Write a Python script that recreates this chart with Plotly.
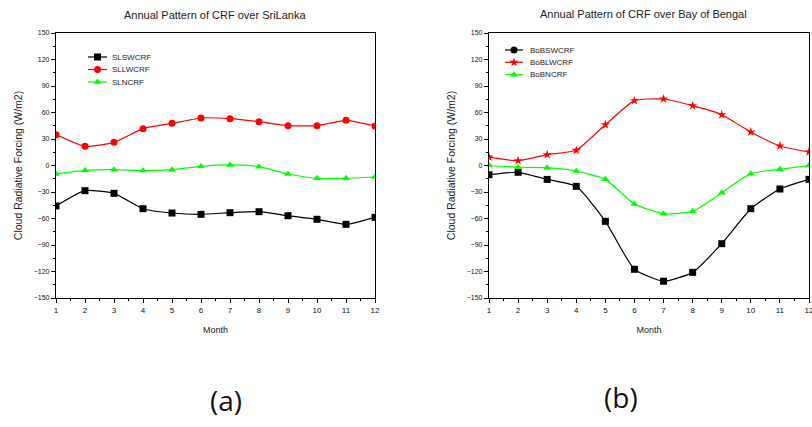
import plotly.graph_objects as go

months = list(range(1, 13))

sl_sw = [-45.8, -28.5, -31.5, -48.9, -53.8, -55.3, -53.4, -52.3, -56.8, -60.9, -66.6, -58.7]
sl_lw = [34.9, 21.7, 26.2, 41.7, 47.7, 53.8, 53.0, 49.6, 45.1, 45.1, 51.1, 44.7]
sl_n = [-9.6, -5.5, -4.7, -5.8, -4.7, -0.9, 0.6, -1.3, -9.6, -14.5, -14.5, -13.0]

bob_sw = [-10.4, -7.7, -15.7, -23.6, -63.2, -117.5, -131.0, -121.0, -88.5, -48.9, -26.6, -15.7]
bob_lw = [9.6, 5.5, 12.3, 17.2, 46.2, 73.4, 75.3, 67.7, 57.5, 37.9, 22.1, 15.3]
bob_n = [0.0, -2.0, -2.5, -6.2, -15.7, -43.6, -54.5, -51.9, -30.8, -9.2, -4.3, 0.0]

y_ticks = list(range(-150, 151, 30))
x_ticks = months

BLACK = "#000000"
RED = "#ff0000"
GREEN = "#00ff00"
FONT = "Liberation Sans"
H = 427
W = 812

fig = go.Figure()

def add(x, y, color, symbol, xa, ya):
    fig.add_trace(go.Scatter(
        x=x, y=y, mode="lines+markers", showlegend=False,
        line=dict(color=color, width=1.2, shape="spline", smoothing=0.5),
        marker=dict(color=color, symbol=symbol, size=7),
        xaxis=xa, yaxis=ya,
    ))

add(months, sl_sw, BLACK, "square", "x", "y")
add(months, sl_lw, RED, "circle", "x", "y")
add(months, sl_n, GREEN, "triangle-up", "x", "y")

add(months, bob_sw, BLACK, "square", "x2", "y2")
add(months, bob_lw, RED, "star", "x2", "y2")
add(months, bob_n, GREEN, "triangle-up", "x2", "y2")

# Compact in-plot legends (drawn on an invisible pixel-scaled overlay axis)
legend_left = dict(names=["SLSWCRF", "SLLWCRF", "SLNCRF"],
                   colors=[BLACK, RED, GREEN], symbols=["square", "circle", "triangle-up"],
                   x0=88, x1=107, xm=97.5, xt=110, ys=[57, 69.5, 82])
legend_right = dict(names=["BoBSWCRF", "BoBLWCRF", "BoBNCRF"],
                    colors=[BLACK, RED, GREEN], symbols=["circle", "star", "triangle-up"],
                    x0=505, x1=523, xm=514, xt=528, ys=[50, 62.3, 74.7])

annotations = []
for lg in (legend_left, legend_right):
    for name, c, s, yy in zip(lg["names"], lg["colors"], lg["symbols"], lg["ys"]):
        fig.add_trace(go.Scatter(x=[lg["x0"], lg["x1"]], y=[yy, yy], mode="lines",
                                 line=dict(color=c, width=1.2), showlegend=False,
                                 hoverinfo="skip", xaxis="x3", yaxis="y3"))
        fig.add_trace(go.Scatter(x=[lg["xm"]], y=[yy], mode="markers",
                                 marker=dict(color=c, symbol=s, size=7), showlegend=False,
                                 hoverinfo="skip", xaxis="x3", yaxis="y3"))
        annotations.append(dict(text=name, x=lg["xt"] / W, y=1 - yy / H, xref="paper",
                                yref="paper", xanchor="left", yanchor="middle",
                                showarrow=False,
                                font=dict(family=FONT, size=8, color="#222")))

ydom = [1 - 298 / H, 1 - 33 / H]

def xaxis(dom, anchor):
    return dict(
        domain=dom, anchor=anchor, range=[1, 12], tickvals=x_ticks,
        automargin=False, ticklabeloverflow="allow",
        ticks="outside", ticklen=4, tickwidth=1.2, tickcolor="#000",
        minor=dict(dtick=0.5, tick0=1, ticks="outside", ticklen=2, tickcolor="#000"),
        showline=True, linecolor="#000", linewidth=1.3, mirror=True,
        showgrid=False, zeroline=False,
        tickfont=dict(family=FONT, size=8, color="#111"),
        title=dict(text="Month", font=dict(family=FONT, size=9, color="#222"), standoff=12),
    )

def yaxis(anchor):
    return dict(
        domain=ydom, anchor=anchor, range=[-150, 150], tickvals=y_ticks,
        automargin=False, ticklabeloverflow="allow",
        ticks="outside", ticklen=4, tickwidth=1.2, tickcolor="#000",
        minor=dict(dtick=15, tick0=0, ticks="outside", ticklen=2, tickcolor="#000"),
        showline=True, linecolor="#000", linewidth=1.3, mirror=True,
        showgrid=False, zeroline=False,
        tickfont=dict(family=FONT, size=7, color="#111"),
        title=dict(text="Cloud Radiative Forcing (W/m2)",
                   font=dict(family=FONT, size=10.5, color="#222"), standoff=8),
    )

annotations += [
    dict(text="Annual Pattern of CRF over SriLanka", x=215 / W, y=1 - 15 / H,
         xref="paper", yref="paper", xanchor="center", yanchor="middle",
         showarrow=False, font=dict(family=FONT, size=11, color="#222")),
    dict(text="Annual Pattern of CRF over Bay of Bengal", x=643 / W, y=1 - 14 / H,
         xref="paper", yref="paper", xanchor="center", yanchor="middle",
         showarrow=False, font=dict(family=FONT, size=11, color="#222")),
    dict(text="(a)", x=226 / W, y=1 - 400 / H, xref="paper", yref="paper",
         xanchor="center", yanchor="middle",
         showarrow=False, font=dict(family="Open Sans", size=28, color="#111")),
    dict(text="(b)", x=621 / W, y=1 - 397 / H, xref="paper", yref="paper",
         xanchor="center", yanchor="middle",
         showarrow=False, font=dict(family="Open Sans", size=28, color="#111")),
]

fig.update_layout(
    width=W, height=H, margin=dict(l=0, r=0, t=0, b=0),
    paper_bgcolor="white", plot_bgcolor="rgba(0,0,0,0)",
    xaxis=xaxis([56 / W, 375 / W], "y"),
    yaxis=yaxis("x"),
    xaxis2=xaxis([489 / W, 809 / W], "y2"),
    yaxis2=yaxis("x2"),
    xaxis3=dict(domain=[0, 1], anchor="y3", range=[0, W], visible=False,
                automargin=False, fixedrange=True),
    yaxis3=dict(domain=[0, 1], anchor="x3", range=[H, 0], visible=False,
                automargin=False, fixedrange=True),
    annotations=annotations,
    showlegend=False,
)

fig.write_html("out.html", config={"displayModeBar": False},
               post_script="document.body.style.margin='0';")
